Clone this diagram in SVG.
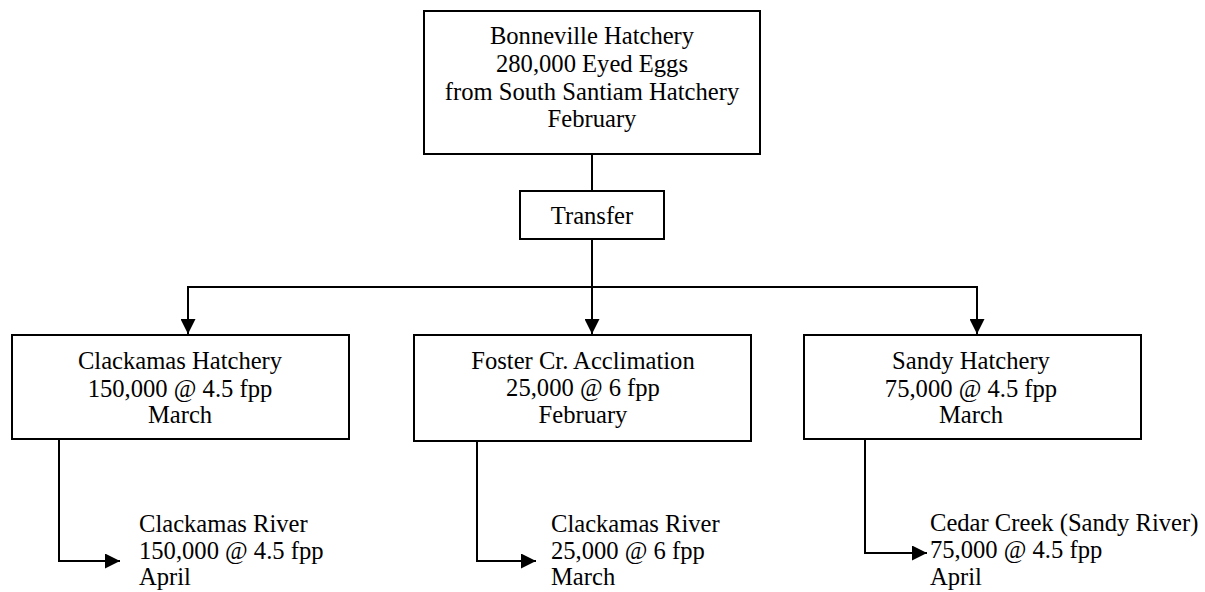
<svg xmlns="http://www.w3.org/2000/svg" width="1205" height="592" viewBox="0 0 1205 592">
<style>
.box{fill:#fff;stroke:#000;stroke-width:2}
.ln{fill:none;stroke:#000;stroke-width:2}
text{font-family:"Liberation Serif","Times New Roman",serif;font-size:24.6px;fill:#000}
.c{text-anchor:middle}
</style>
<defs>
<marker id="ah" viewBox="0 0 15 15" refX="15" refY="7.5" markerWidth="15" markerHeight="15" markerUnits="userSpaceOnUse" orient="auto">
<path d="M0,0 L15,7.5 L0,15 Z" fill="#000"/>
</marker>
</defs>
<rect width="1205" height="592" fill="#fff"/>
<g id="connectors">
<line class="ln" x1="592" y1="154" x2="592" y2="191"/>
<line class="ln" x1="592" y1="239" x2="592" y2="287"/>
<line class="ln" x1="187" y1="287" x2="978" y2="287"/>
<line class="ln" x1="188" y1="287" x2="188" y2="334" marker-end="url(#ah)"/>
<line class="ln" x1="592" y1="287" x2="592" y2="334" marker-end="url(#ah)"/>
<line class="ln" x1="977" y1="287" x2="977" y2="334" marker-end="url(#ah)"/>
<polyline class="ln" points="59,439 59,561 120,561" marker-end="url(#ah)"/>
<polyline class="ln" points="477,441 477,561 536,561" marker-end="url(#ah)"/>
<polyline class="ln" points="865,439 865,553 927,553" marker-end="url(#ah)"/>
</g>
<g id="bonneville">
<rect class="box" x="424" y="11" width="336" height="143"/>
<text class="c" x="592" y="44">Bonneville Hatchery</text>
<text class="c" x="592" y="72">280,000 Eyed Eggs</text>
<text class="c" x="592" y="100">from South Santiam Hatchery</text>
<text class="c" x="592" y="127">February</text>
</g>
<g id="transfer">
<rect class="box" x="520" y="191" width="144" height="48"/>
<text class="c" x="592" y="224">Transfer</text>
</g>
<g id="clackamas-hatchery">
<rect class="box" x="12" y="335" width="337" height="104"/>
<text class="c" x="180" y="369">Clackamas Hatchery</text>
<text class="c" x="180" y="397">150,000 @ 4.5 fpp</text>
<text class="c" x="180" y="423">March</text>
</g>
<g id="foster">
<rect class="box" x="414" y="335" width="337" height="106"/>
<text class="c" x="583" y="369">Foster Cr. Acclimation</text>
<text class="c" x="583" y="396">25,000 @ 6 fpp</text>
<text class="c" x="583" y="423">February</text>
</g>
<g id="sandy-hatchery">
<rect class="box" x="804" y="335" width="337" height="104"/>
<text class="c" x="971" y="369">Sandy Hatchery</text>
<text class="c" x="971" y="397">75,000 @ 4.5 fpp</text>
<text class="c" x="971" y="423">March</text>
</g>
<g id="clackamas-river-1">
<text x="139" y="532">Clackamas River</text>
<text x="139" y="559">150,000 @ 4.5 fpp</text>
<text x="139" y="585">April</text>
</g>
<g id="clackamas-river-2">
<text x="551" y="532">Clackamas River</text>
<text x="551" y="559">25,000 @ 6 fpp</text>
<text x="551" y="585">March</text>
</g>
<g id="cedar-creek">
<text x="930" y="531">Cedar Creek (Sandy River)</text>
<text x="930" y="558">75,000 @ 4.5 fpp</text>
<text x="930" y="585">April</text>
</g>
</svg>
